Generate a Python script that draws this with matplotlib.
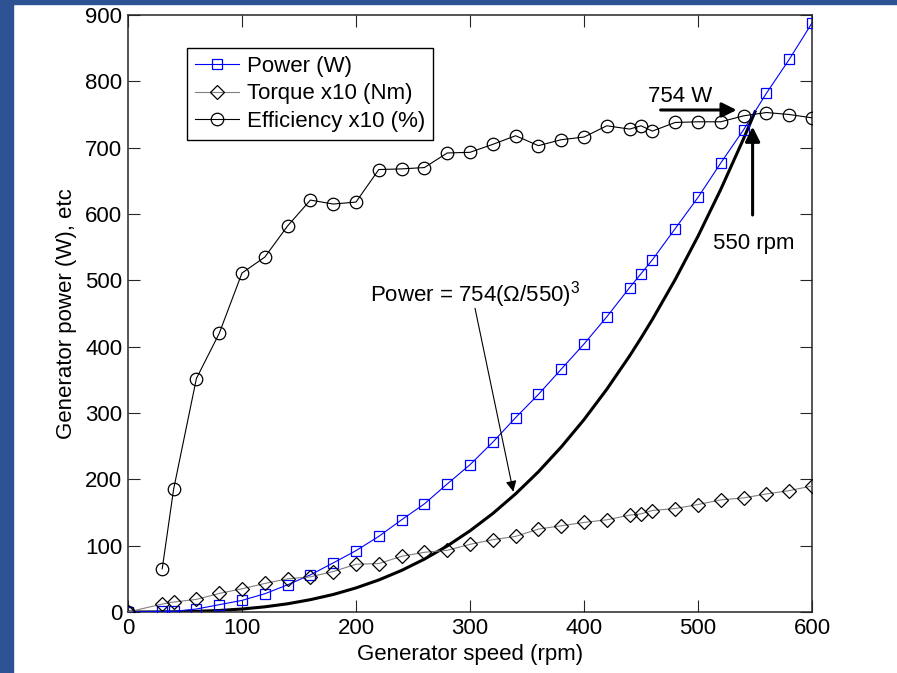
import matplotlib
matplotlib.use('Agg')
import matplotlib.pyplot as plt
import numpy as np

plt.rcParams['font.family'] = ['Liberation Sans', 'DejaVu Sans']
plt.rcParams['mathtext.fontset'] = 'custom'
plt.rcParams['mathtext.rm'] = 'Liberation Sans'

# Скорость генератора (rpm)
speed = [0, 30, 40, 60, 80, 100, 120, 140, 160, 180, 200, 220, 240, 260, 280,
         300, 320, 340, 360, 380, 400, 420, 440, 450, 460, 480, 500, 520, 540,
         560, 580, 600]

power = [0, 1, 1, 4.5, 11, 17.5, 27.5, 41, 56, 74, 92.5, 114, 139, 163, 193,
         222, 256, 293, 328, 366, 404, 445, 489, 510, 531, 578, 625, 677, 727,
         782, 833, 888]

torque = [0, 12, 15, 19, 28, 35, 43, 50, 53, 61, 72, 73, 84, 90, 93,
          102, 109, 114, 125, 130, 135, 139, 146, 148, 153, 156, 162, 169, 172,
          178, 183, 190]

# КПД x10, первая точка (0) рисуется отдельно
eff_speed = speed[1:]
efficiency = [65, 185, 352, 420, 511, 535, 582, 621, 615, 618, 667, 668, 670,
              692, 693, 705, 718, 703, 712, 716, 733, 728, 733, 725, 738, 739,
              739, 748, 753, 750, 745]

# Кубическая зависимость 754(Ω/550)^3
cube_speed = [0, 30, 40, 60, 80, 100, 120, 140, 160, 180, 200, 220, 240, 260,
              280, 300, 320, 340, 360, 380, 400, 420, 440, 450, 460, 480, 500,
              520, 540, 550]
cube_power = [0, 0.1, 0.3, 1, 2.3, 4.5, 7.8, 12.4, 18.6, 26.4, 36.3, 48.3,
              62.7, 79.7, 99.5, 122.4, 148.5, 178.1, 211.4, 248.7, 290.0, 335.8,
              386.0, 413.0, 441.1, 501.2, 566.5, 637.2, 713.6, 754]

fig = plt.figure(figsize=(8.97, 6.73), dpi=100)
fig.patch.set_facecolor('white')

# Синяя рамка слева и сверху
frame_col = '#2C5294'
fig.add_artist(plt.Rectangle((0, 0), 13 / 897, 1, transform=fig.transFigure,
                             color=frame_col, zorder=0))
fig.add_artist(plt.Rectangle((0, 1 - 4 / 673), 1, 4 / 673, transform=fig.transFigure,
                             color=frame_col, zorder=0))

ax = fig.add_axes([128 / 897, 1 - 612 / 673, 684 / 897, 597 / 673])

ax.plot(cube_speed, cube_power, color='black', lw=2.2, zorder=2)

ax.plot(speed, power, color='#0000FF', lw=0.8, marker='s', ms=7,
        mfc='none', mec='#0000FF', mew=0.9, label='Power (W)', zorder=3)
ax.plot(speed, torque, color='#808080', lw=0.8, marker='D', ms=6.8,
        mfc='none', mec='black', mew=0.9, label='Torque x10 (Nm)', zorder=3)
ax.plot(eff_speed, efficiency, color='black', lw=0.8, marker='o', ms=9,
        mfc='none', mec='black', mew=0.9, label='Efficiency x10 (%)', zorder=3)
ax.plot([0], [0], ls='none', marker='o', ms=9, mfc='none', mec='black',
        mew=0.9, zorder=3)

ax.set_xlim(0, 600)
ax.set_ylim(0, 900)
ax.set_xticks(np.arange(0, 601, 100))
ax.set_yticks(np.arange(0, 901, 100))
ax.tick_params(direction='in', length=8.6, width=0.8, top=True, right=True,
               labelsize=16, pad=4, colors='#262626', labelcolor='black')
for s in ax.spines.values():
    s.set_color('#262626')
    s.set_linewidth(1.1)

ax.set_xlabel('Generator speed (rpm)', fontsize=16, labelpad=4)
ax.set_ylabel('Generator power (W), etc', fontsize=16, labelpad=6)

leg = ax.legend(loc='upper left', bbox_to_anchor=(0.0863, 0.945),
                borderaxespad=0, fancybox=False, edgecolor='black',
                fontsize=16, handlelength=2.0, handletextpad=0.35,
                labelspacing=0.3, borderpad=0.35, framealpha=1)
leg.get_frame().set_linewidth(1.0)

# Подписи и стрелки
ax.text(212.3, 467.8, 'Power = 754(Ω/550)$^{3}$', fontsize=16,
        ha='left', va='baseline')
ax.annotate('', xy=(338, 181.4), xytext=(304.4, 457.9),
            arrowprops=dict(arrowstyle='-|>', color='black', lw=0.8,
                            mutation_scale=16, shrinkA=0, shrinkB=0))

ax.text(456.4, 769.3, '754 W', fontsize=16, ha='left', va='baseline')
ax.annotate('', xy=(533.9, 756.8), xytext=(467.2, 756.8),
            arrowprops=dict(arrowstyle='-|>', color='black', lw=2.2,
                            mutation_scale=22, shrinkA=0, shrinkB=0))

ax.text(513.4, 546.8, '550 rpm', fontsize=16, ha='left', va='baseline')
ax.annotate('', xy=(547.9, 731.6), xytext=(547.9, 598.5),
            arrowprops=dict(arrowstyle='-|>', color='black', lw=2.2,
                            mutation_scale=22, shrinkA=0, shrinkB=0))

fig.savefig('out.png', dpi=100)
